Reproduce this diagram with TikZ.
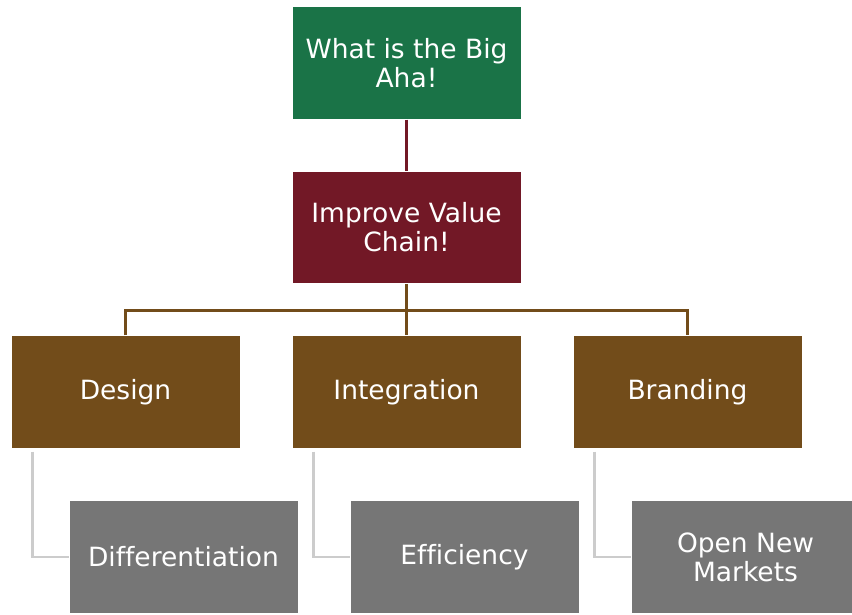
\documentclass[tikz,border=0pt]{standalone}
\usepackage{fontspec}
\setmainfont[Ligatures={NoCommon}]{DejaVu Sans}
\definecolor{cgreen}{HTML}{1A7347}
\definecolor{cred}{HTML}{721826}
\definecolor{cbrown}{HTML}{724C1A}
\definecolor{cgrey}{HTML}{767676}
\definecolor{cline}{HTML}{CCCCCC}
\begin{document}
\begin{tikzpicture}[x=1pt,y=-1pt,
  box/.style={rectangle, draw=white, line width=0.8pt, minimum width=229pt, minimum height=112.5pt,
    inner sep=0pt, text=white, align=center, font=\fontsize{26.5}{29}\selectfont},
  greenbox/.style={box, fill=cgreen},
  redbox/.style={box, fill=cred},
  brownbox/.style={box, fill=cbrown},
  greybox/.style={box, fill=cgrey},
  redline/.style={draw=cred, line width=3pt},
  brownline/.style={draw=cbrown, line width=3pt},
  greyline/.style={draw=cline, line width=2.6pt}]
\useasboundingbox (0,0) rectangle (852,614);
\clip (0,0) rectangle (852,614);
\node[greenbox] (top) at (406.5,63) {What is the Big\\Aha!};
\node[redbox] (mid) at (406.5,227.5) {Improve Value\\Chain!};
\node[brownbox] (b1) at (125.5,392) {Design};
\node[brownbox] (b2) at (406.5,392) {Integration};
\node[brownbox] (b3) at (687.5,392) {Branding};
\node[greybox] (g1) at (183.5,557) {Differentiation};
\node[greybox] (g2) at (464.5,557) {Efficiency};
\node[greybox] (g3) at (745.5,557) {Open New\\Markets};
\coordinate (hub) at (406.5,310);
\draw[redline] (top.south) -- (mid.north);
\draw[brownline] (mid.south) -- (hub);
\draw[brownline] (b1.north) -- (b1.north |- hub) -- (b3.north |- hub) -- (b3.north);
\draw[brownline] (hub) -- (b2.north);
\foreach \i in {1,2,3}{
  \draw[greyline] ([xshift=22pt,yshift=-3pt]b\i.south west) |- (g\i.west);
}
\end{tikzpicture}
\end{document}
